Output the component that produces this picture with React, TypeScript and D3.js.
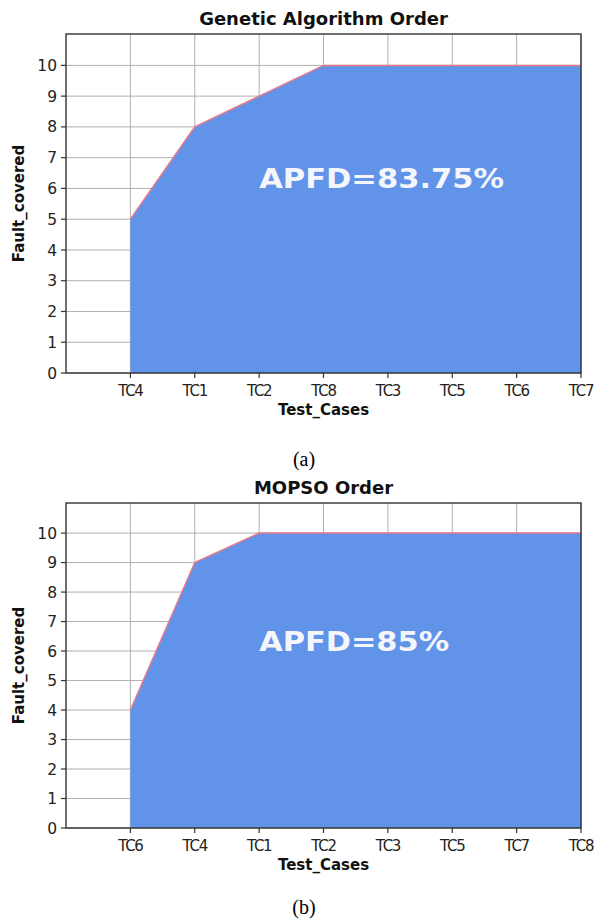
import React from "react";
import * as d3 from "d3";

const gaCases = ["TC4", "TC1", "TC2", "TC8", "TC3", "TC5", "TC6", "TC7"];
const gaFaults = [5, 8, 9, 10, 10, 10, 10, 10];
const mopsoCases = ["TC6", "TC4", "TC1", "TC2", "TC3", "TC5", "TC7", "TC8"];
const mopsoFaults = [4, 9, 10, 10, 10, 10, 10, 10];
const yTicks = [0, 1, 2, 3, 4, 5, 6, 7, 8, 9, 10];

const FILL = "#6193E8";
const LINE = "#E87A8A";
const GRID = "#b0b0b0";
const AXIS = "#333";
const SANS = "DejaVu Sans, sans-serif";

type PanelProps = {
  title: string;
  cases: string[];
  faults: number[];
  apfd: string;
  caption: string;
  top: number;
  bottom: number;
  titleY: number;
  captionY: number;
};

function Panel({ title, cases, faults, apfd, caption, top, bottom, titleY, captionY }: PanelProps) {
  const left = 66;
  const right = 581;
  const x = d3.scaleLinear().domain([-1, cases.length - 1]).range([left, right]);
  const y = d3.scaleLinear().domain([0, 11.02]).range([bottom, top]);
  const idx = cases.map((_, i) => i);
  const area = d3
    .area<number>()
    .x((i) => x(i))
    .y0(y(0))
    .y1((i) => y(faults[i]));
  const line = d3
    .line<number>()
    .x((i) => x(i))
    .y((i) => y(faults[i]));
  const cx = (left + right) / 2;
  const cy = (top + bottom) / 2;
  return (
    <g>
      <rect x={left} y={top} width={right - left} height={bottom - top} fill="#fff" />
      {yTicks.map((t) => (
        <line key={"gy" + t} x1={left} x2={right} y1={y(t)} y2={y(t)} stroke={GRID} strokeWidth={1} />
      ))}
      {idx.map((i) => (
        <line key={"gx" + i} x1={x(i)} x2={x(i)} y1={top} y2={bottom} stroke={GRID} strokeWidth={1} />
      ))}
      <path d={area(idx) || ""} fill={FILL} />
      <path d={line(idx) || ""} fill="none" stroke={LINE} strokeWidth={1.5} />
      <text
        x={x(2)}
        y={y(6)}
        fill="#f4f6fb"
        fontFamily={SANS}
        fontWeight="bold"
        fontSize={27}
        textLength={apfd.length > 9 ? 245 : 190}
        lengthAdjust="spacingAndGlyphs"
      >
        {apfd}
      </text>
      <rect x={left} y={top} width={right - left} height={bottom - top} fill="none" stroke={AXIS} strokeWidth={1.4} />
      {yTicks.map((t) => (
        <g key={"ty" + t}>
          <line x1={left - 5} x2={left} y1={y(t)} y2={y(t)} stroke={AXIS} strokeWidth={1.2} />
          <text x={left - 9} y={y(t)} dy="0.36em" textAnchor="end" fontFamily={SANS} fontSize={15.5} fill="#222">
            {t}
          </text>
        </g>
      ))}
      {idx.map((i) => (
        <g key={"tx" + i}>
          <line x1={x(i)} x2={x(i)} y1={bottom} y2={bottom + 5} stroke={AXIS} strokeWidth={1.2} />
          <text
            x={x(i)}
            y={bottom + 23}
            textAnchor="middle"
            fontFamily={SANS}
            fontSize={15}
            letterSpacing={-1.3}
            fill="#222"
          >
            {cases[i]}
          </text>
        </g>
      ))}
      <text x={cx} y={titleY} textAnchor="middle" fontFamily={SANS} fontWeight="bold" fontSize={18} fill="#111">
        {title}
      </text>
      <text x={cx} y={bottom + 42} textAnchor="middle" fontFamily={SANS} fontWeight="bold" fontSize={15} fill="#111">
        Test_Cases
      </text>
      <text
        transform={`translate(24,${cy}) rotate(-90)`}
        textAnchor="middle"
        fontFamily={SANS}
        fontWeight="bold"
        fontSize={15}
        fill="#111"
      >
        Fault_covered
      </text>
      <text x={304} y={captionY} textAnchor="middle" fontFamily="Liberation Serif, Times New Roman, serif" fontSize={20} fill="#000">
        {caption}
      </text>
    </g>
  );
}

export default function App() {
  return (
    <svg
      width={594}
      height={921}
      style={{ position: "absolute", left: 0, top: 0, background: "#fff" }}
    >
      <rect width={594} height={921} fill="#fff" />
      <Panel
        title="Genetic Algorithm Order"
        cases={gaCases}
        faults={gaFaults}
        apfd="APFD=83.75%"
        caption="(a)"
        top={34}
        bottom={373}
        titleY={25}
        captionY={466}
      />
      <Panel
        title="MOPSO Order"
        cases={mopsoCases}
        faults={mopsoFaults}
        apfd="APFD=85%"
        caption="(b)"
        top={503}
        bottom={828}
        titleY={494}
        captionY={914}
      />
    </svg>
  );
}
